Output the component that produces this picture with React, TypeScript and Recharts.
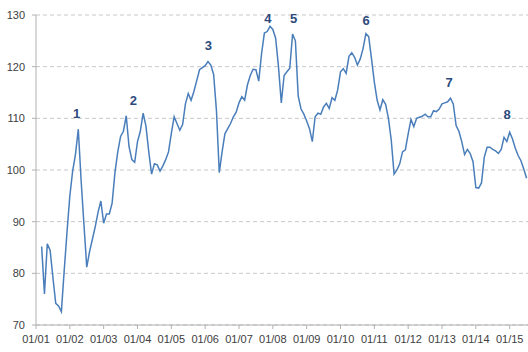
import React from 'react';
import { LineChart, Line, XAxis, YAxis, CartesianGrid, ReferenceDot } from 'recharts';

// Month offsets from January 2001; first observation is March 2001 (offset 2)
const FIRST_MONTH = 2;
const indexValues: number[] = [
  85.2, 76, 85.7, 84.5, 79.2, 74.2, 73.7, 72.6, 80.5, 88,
  95, 99.8, 103, 107.9, 98, 89.5, 81.2, 84.2, 86.6, 89,
  91.8, 94, 89.7, 91.5, 91.5, 93.6, 99.5, 103.5, 106.5, 107.5,
  110.5, 104.5, 102, 101.5, 105.5, 107.5, 111, 108.5, 103.5, 99.2,
  101.2, 101, 99.8, 100.8, 102, 103.5, 107.1, 110.3, 109, 107.7,
  108.8, 112.8, 114.8, 113.5, 115.2, 117.3, 119.4, 119.8, 120.2, 121,
  120.3, 118.5, 111.5, 99.5, 103.5, 107, 108, 109, 110.3, 111.2,
  113, 114.2, 113.5, 116.5, 118.3, 119.5, 119.4, 117.2, 122.5, 126.5,
  126.8, 127.8, 127.2, 125.5, 120, 113, 118.3, 119, 119.7, 126.3,
  125, 114.3, 111.8, 110.8, 109.5, 108, 105.5, 110.3, 111, 110.8,
  112.2, 112.9, 111.9, 114, 113.5, 115.5, 119, 119.6, 118.7, 122,
  122.7, 121.8, 120.3, 121.5, 123.5, 126.4, 125.8, 121.5, 117, 113.5,
  111.6, 113.6, 112.7, 110, 105.8, 99.2, 100, 101.2, 103.5, 103.9,
  107, 109.8, 108.4, 110, 110.2, 110.4, 110.8, 110.3, 110.3, 111.5,
  111.3, 111.8, 112.8, 113, 113.2, 113.9, 112.8, 108.6, 107.5, 105.5,
  103, 104, 103.2, 101.6, 96.6, 96.5, 97.5, 102.5, 104.4, 104.4,
  104, 103.7, 103.2, 104, 106.3, 105.5, 107.3, 106, 104.2, 102.8,
  101.8, 100.2, 98.4,
];

const yearTickLabels: string[] = [
  '01/01', '01/02', '01/03', '01/04', '01/05', '01/06', '01/07', '01/08',
  '01/09', '01/10', '01/11', '01/12', '01/13', '01/14', '01/15',
];
const yTicks: number[] = [70, 80, 90, 100, 110, 120, 130];

// Annotation labels (month offset, value level)
const noteLabels: string[] = ['1', '2', '3', '4', '5', '6', '7', '8'];
const noteMonths: number[] = [14.4, 34.5, 61.1, 82.2, 91.4, 117.1, 146.5, 167.1];
const noteValues: number[] = [111.0, 113.4, 124.1, 129.4, 129.4, 129.0, 116.9, 110.8];

const data = indexValues.map((v, i) => ({ m: FIRST_MONTH + i, v }));
const xTicks = yearTickLabels.map((_, i) => i * 12);

const FONT = '"Liberation Sans", Arial, sans-serif';

export default function App() {
  return (
    <div style={{ position: 'absolute', left: 0, top: 0, width: 528, height: 352, background: '#fff' }}>
      <LineChart
        width={528}
        height={352}
        data={data}
        margin={{ top: 15, right: 0, bottom: 0, left: 0 }}
      >
        <CartesianGrid vertical={false} stroke="#c8c8c8" strokeDasharray="4 3" />
        <XAxis
          dataKey="m"
          type="number"
          domain={[0, 174.5]}
          allowDataOverflow
          ticks={xTicks}
          tickFormatter={(t: number) => yearTickLabels[Math.round(t / 12)] ?? ''}
          height={27}
          tickSize={4}
          tickMargin={6}
          stroke="#b0b0b0"
          tick={{ fill: '#404040', fontSize: 11, fontFamily: FONT }}
          interval={0}
        />
        <YAxis
          type="number"
          domain={[70, 130]}
          ticks={yTicks}
          width={36}
          tickSize={4}
          tickMargin={7}
          stroke="#b0b0b0"
          tick={{ fill: '#404040', fontSize: 11, fontFamily: FONT }}
          interval={0}
        />
        <Line
          type="linear"
          dataKey="v"
          stroke="#4A7EBB"
          strokeWidth={1.5}
          dot={false}
          isAnimationActive={false}
        />
        {noteLabels.map((lab, i) => (
          <ReferenceDot
            key={lab}
            x={noteMonths[i]}
            y={noteValues[i]}
            r={0}
            shape={(p: any) => (
              <text
                x={p.cx}
                y={p.cy}
                textAnchor="middle"
                dominantBaseline="central"
                fill="#2E4A7D"
                fontSize={13}
                fontWeight="bold"
                fontFamily={FONT}
              >
                {lab}
              </text>
            )}
          />
        ))}
      </LineChart>
    </div>
  );
}
